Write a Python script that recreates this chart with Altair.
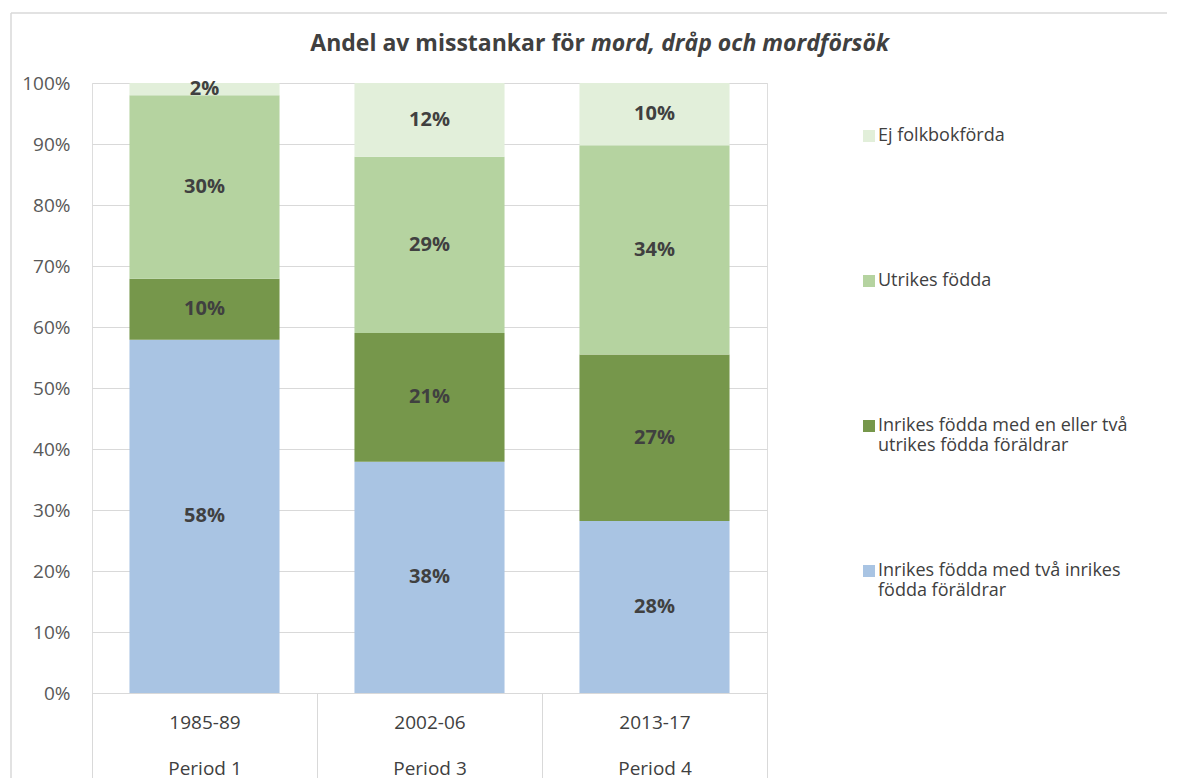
import altair as alt
import pandas as pd

periods = ["1985-89\nPeriod 1", "2002-06\nPeriod 3", "2013-17\nPeriod 4"]
groups = [
    "Inrikes födda med två inrikes\nfödda föräldrar",
    "Inrikes födda med en eller två\nutrikes födda föräldrar",
    "Utrikes födda",
    "Ej folkbokförda",
]
colors = ["#A9C4E3", "#76974B", "#B5D3A0", "#E2EFDA"]
values = {
    "1985-89\nPeriod 1": [57.9, 10.0, 30.1, 2.0],
    "2002-06\nPeriod 3": [37.9, 21.1, 28.9, 12.1],
    "2013-17\nPeriod 4": [28.2, 27.3, 34.3, 10.2],
}

rows = []
for p in periods:
    for i, g in enumerate(groups):
        rows.append({"period": p, "group": g, "order": i, "value": values[p][i]})
df = pd.DataFrame(rows)

FONT = "Open Sans"
GRID = "#D9D9D9"

base = alt.Chart(df).transform_stack(
    stack="value", groupby=["period"], as_=["y0", "y1"], sort=[alt.SortField("order")]
)

xscale = alt.Scale(paddingInner=0, paddingOuter=0)

bars = base.mark_bar(width=alt.RelativeBandSize(0.667)).encode(
    x=alt.X(
        "period:N",
        sort=periods,
        scale=xscale,
        axis=alt.Axis(
            title=None,
            labelAngle=0,
            labelExpr="split(datum.label, '\\n')",
            labelLineHeight=46,
            labelFontSize=19,
            labelFont=FONT,
            labelColor="#404040",
            labelPadding=-56,
            labelBaseline="middle",
            tickBand="extent",
            tickSize=85,
            tickColor=GRID,
            domainColor=GRID,
            grid=False,
        ),
    ),
    y=alt.Y(
        "y0:Q",
        scale=alt.Scale(domain=[0, 100], nice=False),
        axis=alt.Axis(
            title=None,
            values=list(range(0, 101, 10)),
            labelExpr="datum.value + '%'",
            labelFontSize=19,
            labelFont=FONT,
            labelColor="#595959",
            labelPadding=22,
            ticks=False,
            domain=False,
            gridColor=GRID,
        ),
    ),
    y2="y1:Q",
    color=alt.Color(
        "group:N",
        scale=alt.Scale(domain=groups, range=colors),
        legend=alt.Legend(
            title=None,
            orient="none",
            legendX=768,
            legendY=44,
            direction="vertical",
            values=list(reversed(groups)),
            symbolType="square",
            symbolSize=144,
            symbolStrokeWidth=0,
            labelFont=FONT,
            labelFontSize=18,
            labelOffset=0,
            labelColor="#404040",
            labelExpr="split(datum.label, '\\n')",
            labelLimit=400,
            gridAlign="all",
            rowPadding=107,
        ),
    ),
    order=alt.Order("order:Q"),
)

labels = base.transform_calculate(
    mid="(datum.y0 + datum.y1) / 2",
    lab="round(datum.value) + '%'",
).mark_text(font=FONT, fontSize=20, fontWeight="bold", color="#404040").encode(
    x=alt.X("period:N", sort=periods, scale=xscale),
    y=alt.Y("mid:Q"),
    text="lab:N",
)

title_df = pd.DataFrame({"t": [0]})
title_a = alt.Chart(title_df).mark_text(
    font=FONT, fontSize=23, fontWeight="bold", color="#404040", align="right", baseline="middle"
).encode(x=alt.value(493), y=alt.value(-39), text=alt.value("Andel av misstankar för"))
title_b = alt.Chart(title_df).mark_text(
    font=FONT, fontSize=23, fontWeight="bold", fontStyle="italic", color="#404040",
    align="left", baseline="middle"
).encode(x=alt.value(499), y=alt.value(-39), text=alt.value("mord, dråp och mordförsök"))

frame_top = alt.Chart(title_df).mark_rule(color=GRID, strokeWidth=1.5).encode(
    x=alt.value(-81), x2=alt.value(1100), y=alt.value(-70)
)
frame_left = alt.Chart(title_df).mark_rule(color=GRID, strokeWidth=1.5).encode(
    x=alt.value(-81), y=alt.value(-70), y2=alt.value(700)
)

chart = alt.layer(bars, labels, title_a, title_b, frame_top, frame_left).properties(
    width=675,
    height=610,
    padding={"left": 84, "top": 75, "right": 400, "bottom": 85},
    autosize=alt.AutoSizeParams(type="none"),
).configure_view(stroke=None).configure(background="white")

chart.save("out.html", embed_options={"renderer": "svg", "actions": False})
